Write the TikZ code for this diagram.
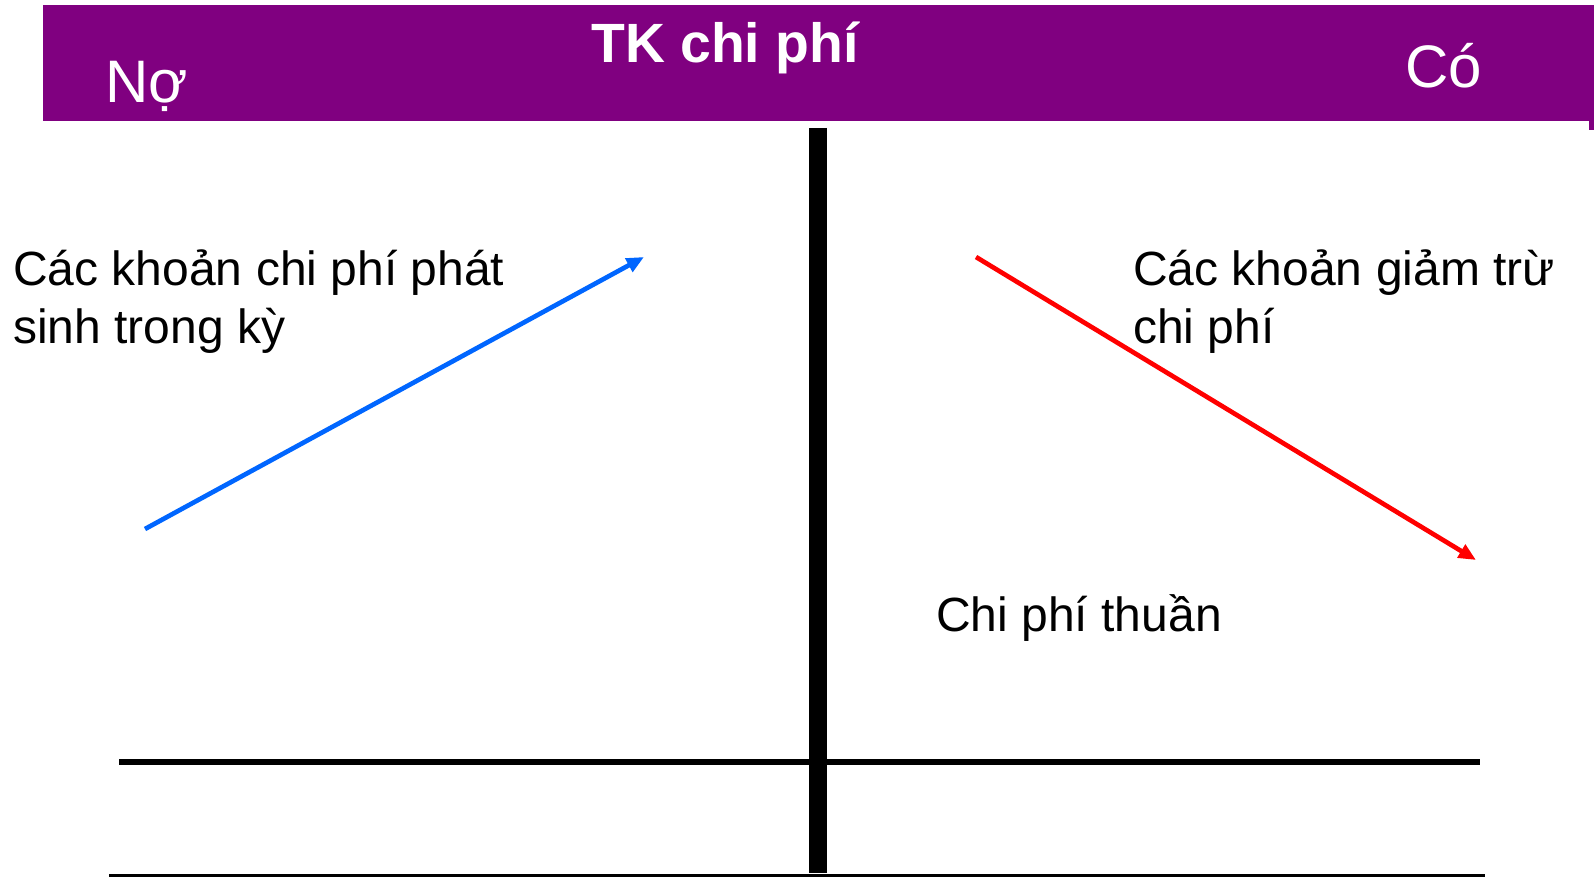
\documentclass[tikz,border=0pt]{standalone}
\usepackage{fontspec}
\setmainfont{Liberation Sans}
\usetikzlibrary{arrows.meta}
\definecolor{hdr}{HTML}{800080}
\definecolor{blu}{HTML}{0066FF}
\definecolor{rd}{HTML}{FF0000}
\begin{document}
\begin{tikzpicture}[x=0.75pt,y=-0.75pt,
  lbl/.style={anchor=base west,inner sep=0pt,font=\fontsize{36}{43}\selectfont,align=left},
  hdrtext/.style={inner sep=0pt,text=white},
  flow/.style={line width=3.5pt,-{Triangle[length=13pt,width=11pt]}}]
\useasboundingbox (0,0) rectangle (1594,877);
\fill[hdr] (43,5) rectangle (1594,121);
\fill[hdr] (1589,121) rectangle (1594,130);
\node[hdrtext,anchor=base,font=\fontsize{41.5}{48}\selectfont\bfseries] (title) at (725,63) {TK chi phí};
\node[hdrtext,anchor=base west,font=\fontsize{45}{52}\selectfont] (no) at (105,103) {Nợ};
\node[hdrtext,anchor=base west,font=\fontsize{45}{52}\selectfont] (co) at (1405,88) {Có};
% T-account
\coordinate (vt) at (818,128);
\coordinate (vb) at (818,873);
\coordinate (hl) at (119,762);
\coordinate (hr) at (1480,762);
\coordinate (bl) at (109,877);
\coordinate (br) at (1485,877);
\draw[line width=13.5pt] (vt) -- (vb);
\draw[line width=4.5pt] (hl) -- (hr);
\draw[line width=4.5pt] (bl) -- (br);
% labels (anchored at the baseline of the last line)
\node[lbl] (debit) at (13,343) {Các khoản chi phí phát\\sinh trong kỳ};
\node[lbl] (credit) at (1133,343) {Các khoản giảm trừ\\chi phí};
\node[lbl] (net) at (936,631) {Chi phí thuần};
% arrows
\coordinate (b1) at (145,529);
\coordinate (b2) at (644,257);
\coordinate (r1) at (976,257);
\coordinate (r2) at (1476,560);
\draw[flow,blu] (b1) -- (b2);
\draw[flow,rd] (r1) -- (r2);
\end{tikzpicture}
\end{document}
